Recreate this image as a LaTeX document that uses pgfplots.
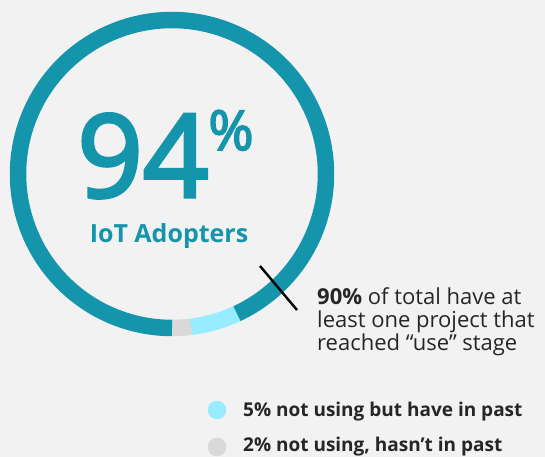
\documentclass[border=0pt]{standalone}
\usepackage{pgfplots}
\pgfplotsset{compat=1.18}
\usepackage{pgfplotstable}
\usepackage{fontspec}
\setmainfont{Open Sans}
\newfontfamily\heavyfont[FakeBold=3]{Open Sans}
\definecolor{bgcol}{HTML}{F2F2F2}
\definecolor{ringteal}{HTML}{1595AC}
\definecolor{pastcyan}{HTML}{98ECFF}
\definecolor{nevergray}{HTML}{D9D9D9}
\definecolor{txtdark}{HTML}{262626}

% share of respondents: never used, used in past, adopters
\pgfplotstableread{
label value
never 2
past 5
adopt 94
}\ringdata

\begin{document}
\begin{tikzpicture}
\pgfplotstablegetelem{0}{value}\of\ringdata \let\vNever\pgfplotsretval
\pgfplotstablegetelem{1}{value}\of\ringdata \let\vPast\pgfplotsretval
\pgfplotstablegetelem{2}{value}\of\ringdata \let\vAdopt\pgfplotsretval
\pgfmathsetmacro\tot{\vNever+\vPast+\vAdopt}
\pgfmathsetmacro\aA{-90}
\pgfmathsetmacro\aB{\aA+\vNever/\tot*360}
\pgfmathsetmacro\aC{\aB+\vPast/\tot*360}
\pgfmathsetmacro\aD{\aA+360}
\fill[bgcol] (0,0) rectangle (545bp,457bp);
\begin{axis}[scale only axis,width=545bp,height=457bp,
  xmin=0,xmax=545,ymin=0,ymax=457,hide axis,clip=false]
% ring segments
\addplot[domain=\aA:\aB,samples=20,line width=16.5bp,nevergray,line cap=butt]
  ({172+154*cos(x)},{283+154*sin(x)});
\addplot[domain=\aB:\aC,samples=30,line width=16.5bp,pastcyan,line cap=butt]
  ({172+154*cos(x)},{283+154*sin(x)});
\addplot[domain=\aC:\aD,samples=200,line width=16.5bp,ringteal,line cap=butt]
  ({172+154*cos(x)},{283+154*sin(x)});
% marker for the 90% share
\addplot[black,line width=2.4bp] coordinates {(260,191) (297,147)};
% legend dots
\addplot[only marks,mark=*,mark size=9bp,pastcyan] coordinates {(217,47)};
\addplot[only marks,mark=*,mark size=9bp,nevergray] coordinates {(217,10)};
% centre text
\node[anchor=base,inner sep=0,text=ringteal,font=\fontsize{115bp}{115bp}\heavyfont] at (axis cs:143,260) {94};
\node[anchor=base,inner sep=0,text=ringteal,font=\fontsize{55bp}{55bp}\heavyfont] at (axis cs:231,307) {\%};
\node[anchor=base,inner sep=0,text=ringteal,font=\fontsize{25bp}{25bp}\bfseries] at (axis cs:169,214) {IoT Adopters};
% annotation
\begin{scope}[every node/.style={anchor=base west,inner sep=0,text=txtdark,font=\fontsize{22bp}{23bp}\selectfont}]
\node at (axis cs:317,152) {\textbf{90\%} of total have at};
\node at (axis cs:317,129) {least one project that};
\node at (axis cs:317,106) {reached “use” stage};
\end{scope}
% legend text
\begin{scope}[every node/.style={anchor=base west,inner sep=0,text=txtdark,font=\fontsize{19bp}{20bp}\bfseries}]
\node at (axis cs:243,40) {5\% not using but have in past};
\node at (axis cs:243,5) {2\% not using, hasn’t in past};
\end{scope}
\end{axis}
\pgfresetboundingbox
\path (0,0) rectangle (545bp,457bp);
\end{tikzpicture}
\end{document}
